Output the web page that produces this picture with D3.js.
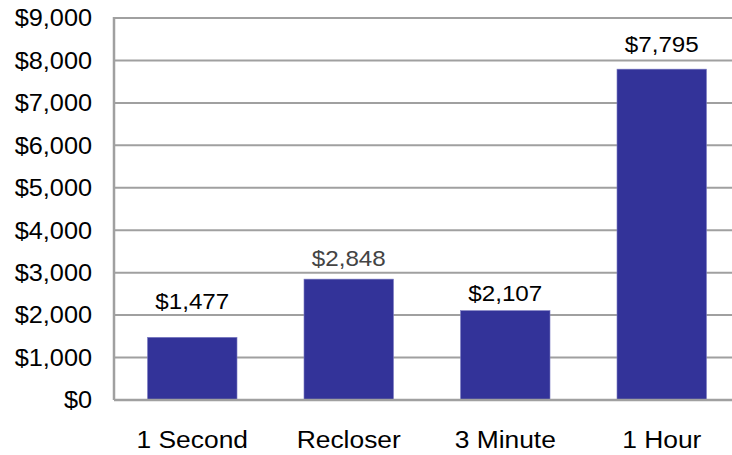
<!DOCTYPE html>
<html>
<head>
<meta charset="utf-8">
<script src="https://cdn.jsdelivr.net/npm/d3@7"></script>
<style>
  html, body { margin: 0; padding: 0; background: #fff; }
  svg { display: block; font-family: "Liberation Sans", Arial, sans-serif; }
</style>
</head>
<body>
<div id="chart"></div>
<script>
const categories = ["1 Second", "Recloser", "3 Minute", "1 Hour"];
const costs = [1477, 2848, 2107, 7795];
const yTicks = [0, 1000, 2000, 3000, 4000, 5000, 6000, 7000, 8000, 9000];
const labelColors = ["#000", "#444", "#000", "#000"];
// gap between bar top and label baseline, px (labels were placed by hand)
const labelGaps = [28, 13, 10, 17];

const width = 732;
const height = 455;
const margin = { top: 18, right: -8, bottom: 55, left: 114 };
const stretch = 1.1; // text in the source is slightly wide

const svg = d3.select("#chart")
  .append("svg")
  .attr("width", width)
  .attr("height", height);

const x = d3.scaleBand()
  .domain(categories)
  .range([margin.left, width - margin.right])
  .paddingInner(0.428)
  .paddingOuter(0.214);

const y = d3.scaleLinear()
  .domain([0, 9000])
  .range([height - margin.bottom, margin.top]);

const money = d3.format("$,");

function place(px, py) {
  return "translate(" + px + "," + py + ") scale(" + stretch + ",1)";
}

// gridlines
svg.append("g")
  .selectAll("line")
  .data(yTicks.slice(1))
  .join("line")
  .attr("x1", margin.left)
  .attr("x2", width)
  .attr("y1", function(d) { return y(d); })
  .attr("y2", function(d) { return y(d); })
  .attr("stroke", "#a0a0a0")
  .attr("stroke-width", 2);

// tick labels
svg.append("g")
  .selectAll("text")
  .data(yTicks)
  .join("text")
  .attr("transform", function(d) { return place(92, y(d)); })
  .attr("dy", "0.36em")
  .attr("text-anchor", "end")
  .attr("font-size", 23)
  .attr("fill", "#000")
  .text(function(d) { return money(d); });

// bars
svg.append("g")
  .selectAll("rect")
  .data(costs)
  .join("rect")
  .attr("x", function(d, i) { return x(categories[i]); })
  .attr("y", function(d) { return y(d); })
  .attr("width", x.bandwidth())
  .attr("height", function(d) { return y(0) - y(d); })
  .attr("fill", "#333399")
  .attr("stroke", "#7f7fc4")
  .attr("stroke-width", 0.6);

// value labels
svg.append("g")
  .selectAll("text")
  .data(costs)
  .join("text")
  .attr("transform", function(d, i) {
    return place(x(categories[i]) + x.bandwidth() / 2, y(d) - labelGaps[i]);
  })
  .attr("text-anchor", "middle")
  .attr("font-size", 22)
  .attr("fill", function(d, i) { return labelColors[i]; })
  .text(function(d) { return money(d); });

// axis lines
svg.append("line")
  .attr("x1", margin.left)
  .attr("x2", margin.left)
  .attr("y1", margin.top - 1)
  .attr("y2", y(0))
  .attr("stroke", "#a0a0a0")
  .attr("stroke-width", 2.5);

svg.append("line")
  .attr("x1", margin.left)
  .attr("x2", width)
  .attr("y1", y(0))
  .attr("y2", y(0))
  .attr("stroke", "#a0a0a0")
  .attr("stroke-width", 2.5);

// category labels
svg.append("g")
  .selectAll("text")
  .data(categories)
  .join("text")
  .attr("transform", function(d) { return place(x(d) + x.bandwidth() / 2, 448); })
  .attr("text-anchor", "middle")
  .attr("font-size", 24)
  .attr("fill", "#000")
  .text(function(d) { return d; });
</script>
</body>
</html>
